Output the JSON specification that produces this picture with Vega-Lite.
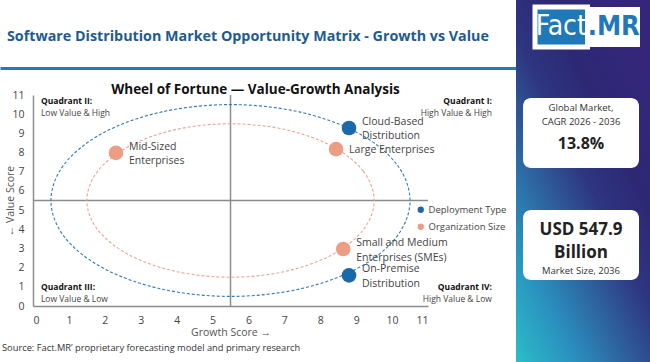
{
  "$schema": "https://vega.github.io/schema/vega-lite/v6.json",
  "padding": 0,
  "autosize": {"type": "pad"},
  "background": "white",
  "spacing": 0,
  "config": {
    "view": {"stroke": null},
    "font": "Open Sans",
    "text": {"font": "Open Sans"},
    "axis": {"labelFont": "Open Sans", "titleFont": "Open Sans"},
    "legend": {"labelFont": "Open Sans"},
    "title": {"font": "Open Sans"}
  },
  "datasets": {
    "segments": [
      {"segment": "Cloud-Based Distribution", "label": "Cloud-Based\nDistribution", "group": "Deployment Type", "growth": 8.8, "value": 9.28},
      {"segment": "On-Premise Distribution", "label": "On-Premise\nDistribution", "group": "Deployment Type", "growth": 8.8, "value": 1.6},
      {"segment": "Large Enterprises", "label": "Large Enterprises", "group": "Organization Size", "growth": 8.44, "value": 8.18},
      {"segment": "Small and Medium Enterprises (SMEs)", "label": "Small and Medium\nEnterprises (SMEs)", "group": "Organization Size", "growth": 8.64, "value": 2.97},
      {"segment": "Mid-Sized Enterprises", "label": "Mid-Sized\nEnterprises", "group": "Organization Size", "growth": 2.31, "value": 7.98}
    ],
    "blueRing": [
      {"i": 0, "growth": 10.5, "value": 5.5}, {"i": 1, "growth": 10.119, "value": 7.413},
      {"i": 2, "growth": 9.036, "value": 9.036}, {"i": 3, "growth": 7.413, "value": 10.119},
      {"i": 4, "growth": 5.5, "value": 10.5}, {"i": 5, "growth": 3.587, "value": 10.119},
      {"i": 6, "growth": 1.964, "value": 9.036}, {"i": 7, "growth": 0.881, "value": 7.413},
      {"i": 8, "growth": 0.5, "value": 5.5}, {"i": 9, "growth": 0.881, "value": 3.587},
      {"i": 10, "growth": 1.964, "value": 1.964}, {"i": 11, "growth": 3.587, "value": 0.881},
      {"i": 12, "growth": 5.5, "value": 0.5}, {"i": 13, "growth": 7.413, "value": 0.881},
      {"i": 14, "growth": 9.036, "value": 1.964}, {"i": 15, "growth": 10.119, "value": 3.587}
    ],
    "orangeRing": [
      {"i": 0, "growth": 9.5, "value": 5.5}, {"i": 1, "growth": 9.196, "value": 7.031},
      {"i": 2, "growth": 8.328, "value": 8.328}, {"i": 3, "growth": 7.031, "value": 9.196},
      {"i": 4, "growth": 5.5, "value": 9.5}, {"i": 5, "growth": 3.969, "value": 9.196},
      {"i": 6, "growth": 2.672, "value": 8.328}, {"i": 7, "growth": 1.804, "value": 7.031},
      {"i": 8, "growth": 1.5, "value": 5.5}, {"i": 9, "growth": 1.804, "value": 3.969},
      {"i": 10, "growth": 2.672, "value": 2.672}, {"i": 11, "growth": 3.969, "value": 1.804},
      {"i": 12, "growth": 5.5, "value": 1.5}, {"i": 13, "growth": 7.031, "value": 1.804},
      {"i": 14, "growth": 8.328, "value": 2.672}, {"i": 15, "growth": 9.196, "value": 3.969}
    ]
  },
  "hconcat": [
    {
      "spacing": 14,
      "vconcat": [
        {
          "width": 516,
          "height": 68,
          "data": {"values": [{"title": "Software Distribution Market Opportunity Matrix - Growth vs Value"}]},
          "mark": {"type": "text", "align": "left", "baseline": "middle", "dx": 7, "dy": 3, "fontSize": 14.3, "fontWeight": "bold", "color": "#1d5b93"},
          "encoding": {
            "text": {"field": "title"},
            "x": {"datum": 0, "type": "quantitative", "scale": {"domain": [0, 1], "nice": false, "zero": false},
                  "axis": {"orient": "bottom", "domain": true, "domainColor": "#2a79b9", "domainWidth": 3, "labels": false, "ticks": false, "grid": false, "title": null}}
          }
        },
        {
          "spacing": 0,
          "bounds": "flush",
          "hconcat": [
            {
              "width": 33, "height": 211, "data": {"values": []}, "mark": "point",
              "title": {"text": "Source: Fact.MR’ proprietary forecasting model and primary research", "orient": "bottom", "anchor": "start", "frame": "group",
                        "offset": 38, "dx": 2, "fontSize": 9.3, "fontWeight": "normal", "color": "#333333"}
            },
            {
              "width": 395,
              "height": 211,
              "title": {"text": "Wheel of Fortune — Value-Growth Analysis", "fontSize": 13.5, "fontWeight": "bold", "color": "#111111", "anchor": "middle", "frame": "group", "dx": 25, "dy": 9, "offset": 3},
              "encoding": {
                "x": {"field": "growth", "type": "quantitative", "scale": {"domain": [0, 11], "nice": false, "zero": false},
                      "axis": {"values": [0,1,2,3,4,5,6,7,8,9,10,11], "grid": false, "ticks": false, "domainColor": "#8c8c8c", "domainWidth": 1.5,
                               "labelFontSize": 10.5, "labelColor": "#444444", "labelPadding": 9, "title": "Growth Score →",
                               "titleFontSize": 10.5, "titleFontWeight": "normal", "titleColor": "#555555", "titlePadding": 2}},
                "y": {"field": "value", "type": "quantitative", "scale": {"domain": [0, 11], "nice": false, "zero": false},
                      "axis": {"values": [0,1,2,3,4,5,6,7,8,9,10,11], "grid": false, "ticks": false, "domainColor": "#8c8c8c", "domainWidth": 1.5,
                               "labelFontSize": 10.5, "labelColor": "#444444", "labelPadding": 9, "title": "← Value Score",
                               "titleFontSize": 10.5, "titleFontWeight": "normal", "titleColor": "#555555", "titleX": -18}}
              },
              "layer": [
                {"data": {"values": [{"growth": 5.5, "value": 0}]}, "mark": {"type": "rule", "color": "#8c8c8c", "strokeWidth": 1.5}, "encoding": {"y2": {"datum": 11}}},
                {"data": {"values": [{"growth": 0, "value": 5.5}]}, "mark": {"type": "rule", "color": "#8c8c8c", "strokeWidth": 1.5}, "encoding": {"x2": {"datum": 11}}},
                {"data": {"name": "blueRing"}, "mark": {"type": "line", "interpolate": "cardinal-closed", "strokeDash": [3, 2], "strokeWidth": 1.1, "color": "#2f7bbb"}, "encoding": {"order": {"field": "i", "type": "quantitative"}}},
                {"data": {"name": "orangeRing"}, "mark": {"type": "line", "interpolate": "cardinal-closed", "strokeDash": [3, 2], "strokeWidth": 1.1, "color": "#eaa592"}, "encoding": {"order": {"field": "i", "type": "quantitative"}}},
                {
                  "data": {"name": "segments"},
                  "mark": {"type": "circle", "size": 215, "opacity": 1},
                  "encoding": {
                    "color": {"field": "group", "type": "nominal",
                              "scale": {"domain": ["Deployment Type", "Organization Size"], "range": ["#1c69aa", "#eb9d86"]},
                              "legend": {"title": null, "orient": "none", "legendX": 416, "legendY": 205, "symbolType": "circle", "symbolSize": 40,
                                         "symbolOpacity": 1, "labelFontSize": 9.5, "labelColor": "#444444", "rowPadding": 6, "labelOffset": 3, "padding": 0}}
                  }
                },
                {
                  "data": {"name": "segments"},
                  "transform": [{"filter": "indexof(datum.label, '\\n') >= 0"}],
                  "mark": {"type": "text", "align": "left", "baseline": "middle", "dx": 13, "dy": -6, "fontSize": 10.5, "color": "#444444", "lineBreak": "\n", "lineHeight": 14.5},
                  "encoding": {"text": {"field": "label"}}
                },
                {
                  "data": {"name": "segments"},
                  "transform": [{"filter": "indexof(datum.label, '\\n') < 0"}],
                  "mark": {"type": "text", "align": "left", "baseline": "middle", "dx": 13, "dy": 1, "fontSize": 10.5, "color": "#444444"},
                  "encoding": {"text": {"field": "label"}}
                },
                {
                  "data": {"values": [
                    {"growth": 0.22, "value": 10.69, "title": "Quadrant II:", "desc": "Low Value & High"},
                    {"growth": 0.22, "value": 0.99, "title": "Quadrant III:", "desc": "Low Value & Low"}
                  ]},
                  "layer": [
                    {"mark": {"type": "text", "align": "left", "baseline": "middle", "fontSize": 8.5, "fontWeight": "bold", "color": "#111111"}, "encoding": {"text": {"field": "title"}}},
                    {"mark": {"type": "text", "align": "left", "baseline": "middle", "dy": 12, "fontSize": 8.5, "color": "#444444"}, "encoding": {"text": {"field": "desc"}}}
                  ]
                },
                {
                  "data": {"values": [
                    {"growth": 12.78, "value": 10.69, "title": "Quadrant I:", "desc": "High Value & High"},
                    {"growth": 12.78, "value": 0.99, "title": "Quadrant IV:", "desc": "High Value & Low"}
                  ]},
                  "layer": [
                    {"mark": {"type": "text", "align": "right", "baseline": "middle", "fontSize": 8.5, "fontWeight": "bold", "color": "#111111"}, "encoding": {"text": {"field": "title"}}},
                    {"mark": {"type": "text", "align": "right", "baseline": "middle", "dy": 12, "fontSize": 8.5, "color": "#444444"}, "encoding": {"text": {"field": "desc"}}}
                  ]
                }
              ]
            },
            {"width": 88, "height": 211, "data": {"values": []}, "mark": "point"}
          ]
        }
      ]
    },
    {
      "width": 134,
      "height": 362,
      "view": {
        "stroke": null,
        "fill": {"gradient": "linear", "x1": 0, "y1": 1, "x2": 0.75, "y2": 0,
                 "stops": [{"offset": 0, "color": "#2bbdc8"}, {"offset": 0.22, "color": "#2a8fbe"}, {"offset": 0.42, "color": "#2e5c9a"}, {"offset": 0.58, "color": "#2e3580"}, {"offset": 0.75, "color": "#2d2874"}, {"offset": 1, "color": "#35267c"}]}
      },
      "resolve": {"scale": {"x": "independent", "y": "independent", "color": "independent"}},
      "layer": [
        {
          "data": {"values": [{"part": "Fact", "word": "Fact"}, {"part": ".MR", "word": ".MR"}]},
          "encoding": {
            "x": {"field": "part", "type": "nominal", "scale": {"type": "band", "domain": ["Fact", ".MR"], "range": [19, 124], "paddingInner": 0, "paddingOuter": 0}, "axis": null},
            "y": {"datum": "logo", "type": "nominal", "scale": {"type": "band", "domain": ["logo"], "range": [7, 47], "paddingInner": 0, "paddingOuter": 0}, "axis": null}
          },
          "layer": [
            {"mark": {"type": "rect", "color": "white"}},
            {"transform": [{"filter": "datum.part === 'Fact'"}], "mark": {"type": "rect", "color": "#1f78b8", "stroke": "white", "strokeWidth": 5}},
            {"transform": [{"filter": "datum.part === 'Fact'"}], "mark": {"type": "text", "fontSize": 28, "font": "Liberation Sans Narrow, DejaVu Sans Condensed, sans-serif", "baseline": "middle", "color": "white"},
             "encoding": {"text": {"field": "word"}}},
            {"transform": [{"filter": "datum.part === '.MR'"}], "mark": {"type": "text", "fontSize": 27, "fontWeight": "bold", "font": "Liberation Sans Narrow, DejaVu Sans Condensed, sans-serif", "baseline": "middle", "color": "#1f78b8"},
             "encoding": {"text": {"field": "word"}}}
          ]
        },
        {
          "data": {"values": [
            {"card": "CAGR", "caption": "Global Market,\nCAGR 2026 - 2036", "figure": "13.8%"},
            {"card": "Size", "caption": "Market Size, 2036", "figure": "USD 547.9\nBillion"}
          ]},
          "encoding": {
            "x": {"datum": "kpi", "type": "nominal", "scale": {"type": "band", "domain": ["kpi"], "range": [7, 123], "paddingInner": 0, "paddingOuter": 0}, "axis": null},
            "y": {"field": "card", "type": "nominal", "scale": {"type": "band", "domain": ["CAGR", "Size"], "range": [98, 280], "paddingInner": 0.375, "paddingOuter": 0}, "axis": null}
          },
          "layer": [
            {"mark": {"type": "rect", "color": "white", "cornerRadius": 8}},
            {"transform": [{"filter": "datum.card === 'CAGR'"}], "mark": {"type": "text", "baseline": "middle", "dy": -25, "fontSize": 9.5, "color": "#333333", "lineBreak": "\n", "lineHeight": 14}, "encoding": {"text": {"field": "caption"}}},
            {"transform": [{"filter": "datum.card === 'CAGR'"}], "mark": {"type": "text", "baseline": "middle", "dy": 11, "fontSize": 16, "fontWeight": "bold", "color": "#222222"}, "encoding": {"text": {"field": "figure"}}},
            {"transform": [{"filter": "datum.card === 'Size'"}], "mark": {"type": "text", "baseline": "middle", "dy": -15, "fontSize": 17, "fontWeight": "bold", "color": "#222222", "lineBreak": "\n", "lineHeight": 23}, "encoding": {"text": {"field": "figure"}}},
            {"transform": [{"filter": "datum.card === 'Size'"}], "mark": {"type": "text", "baseline": "middle", "dy": 26, "fontSize": 9.5, "color": "#333333"}, "encoding": {"text": {"field": "caption"}}}
          ]
        }
      ]
    }
  ]
}
